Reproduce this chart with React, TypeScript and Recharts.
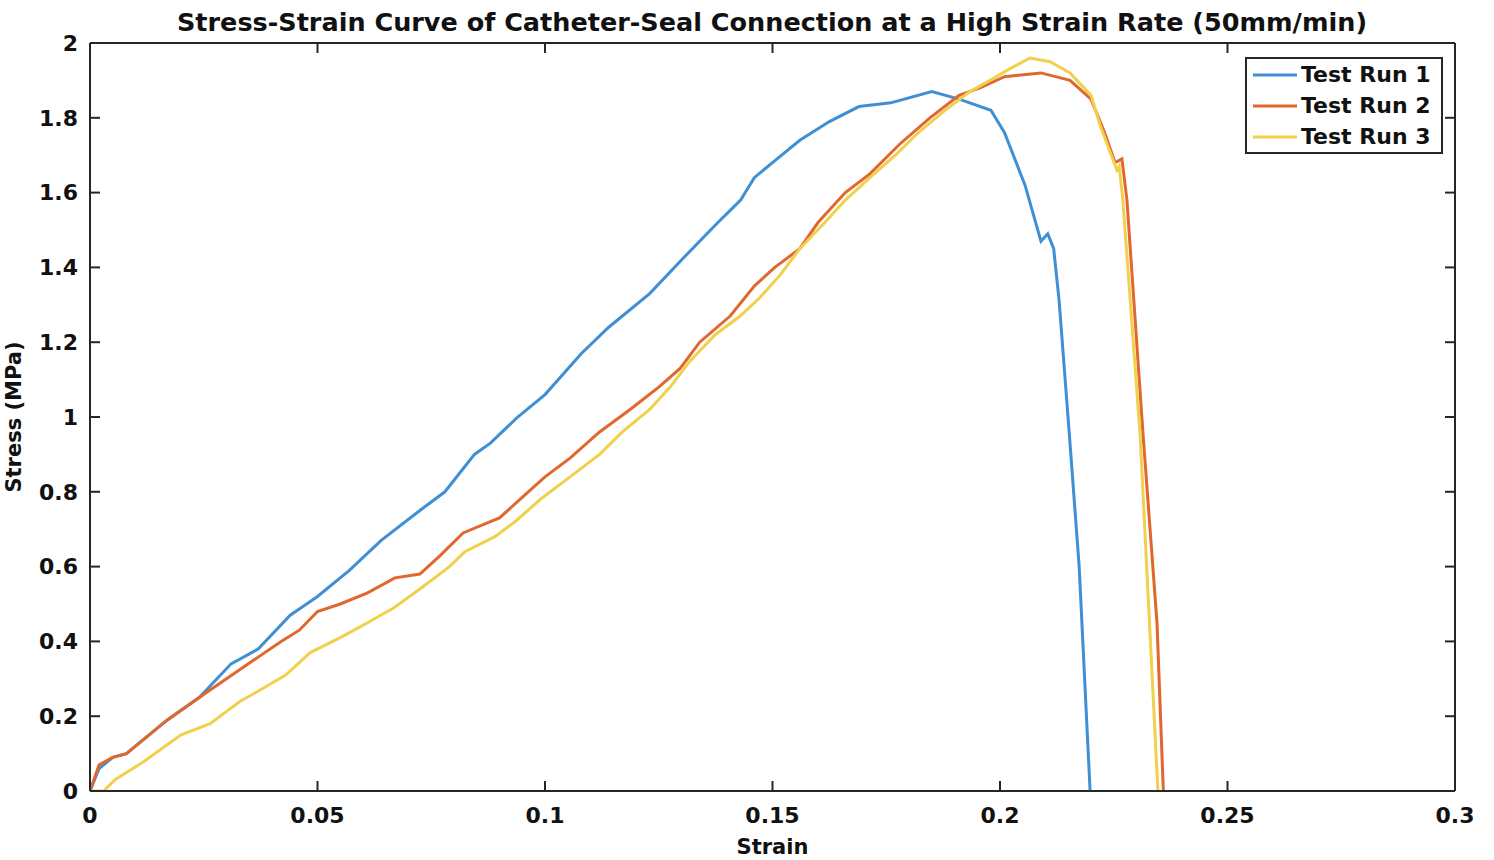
import React from 'react';
import { LineChart, Line, XAxis, YAxis } from 'recharts';

const TITLE = 'Stress-Strain Curve of Catheter-Seal Connection at a High Strain Rate (50mm/min)';
const X_TICKS = [0, 0.05, 0.1, 0.15, 0.2, 0.25, 0.3];
const Y_TICKS = [0, 0.2, 0.4, 0.6, 0.8, 1, 1.2, 1.4, 1.6, 1.8, 2];
const SERIES_NAMES = ['Test Run 1', 'Test Run 2', 'Test Run 3'];
const COLORS = ['#3f8fd4', '#e0682f', '#f1d04c'];

// [strain, stress (MPa)]
const run1: number[][] = [
  [0, 0], [0.002, 0.06], [0.005, 0.09], [0.008, 0.1], [0.012, 0.14], [0.017, 0.19], [0.024, 0.25],
  [0.031, 0.34], [0.037, 0.38], [0.044, 0.47], [0.05, 0.52], [0.057, 0.59], [0.064, 0.67],
  [0.0725, 0.75], [0.078, 0.8], [0.0845, 0.9], [0.088, 0.93], [0.094, 1.0], [0.1, 1.06],
  [0.108, 1.17], [0.114, 1.24], [0.123, 1.33], [0.13, 1.42], [0.138, 1.52], [0.143, 1.58],
  [0.146, 1.64], [0.15, 1.68], [0.156, 1.74], [0.1625, 1.79], [0.169, 1.83], [0.176, 1.84],
  [0.185, 1.87], [0.191, 1.85], [0.198, 1.82], [0.201, 1.76], [0.2055, 1.62], [0.209, 1.47],
  [0.2105, 1.49], [0.2118, 1.45], [0.213, 1.31], [0.2152, 0.96], [0.2174, 0.6], [0.2198, 0],
];

const run2: number[][] = [
  [0, 0], [0.002, 0.07], [0.005, 0.09], [0.008, 0.1], [0.012, 0.14], [0.017, 0.19], [0.024, 0.25],
  [0.03, 0.3], [0.036, 0.35], [0.042, 0.4], [0.046, 0.43], [0.05, 0.48], [0.055, 0.5],
  [0.061, 0.53], [0.067, 0.57], [0.0725, 0.58], [0.077, 0.63], [0.082, 0.69], [0.088, 0.72],
  [0.09, 0.73], [0.0945, 0.78], [0.1, 0.84], [0.1055, 0.89], [0.112, 0.96], [0.1187, 1.02],
  [0.125, 1.08], [0.1297, 1.13], [0.134, 1.2], [0.1407, 1.27], [0.146, 1.35], [0.1505, 1.4],
  [0.156, 1.45], [0.16, 1.52], [0.166, 1.6], [0.1714, 1.65], [0.178, 1.73], [0.1846, 1.8],
  [0.191, 1.86], [0.1956, 1.88], [0.201, 1.91], [0.209, 1.92], [0.2154, 1.9], [0.22, 1.85],
  [0.223, 1.76], [0.2253, 1.68], [0.2268, 1.69], [0.2279, 1.58], [0.2314, 0.96], [0.2345, 0.45],
  [0.2359, 0],
];

const run3: number[][] = [
  [0, 0], [0.003, 0], [0.0055, 0.03], [0.012, 0.08], [0.02, 0.15], [0.0264, 0.18], [0.033, 0.24],
  [0.0374, 0.27], [0.043, 0.31], [0.0484, 0.37], [0.055, 0.41], [0.061, 0.45], [0.0668, 0.49],
  [0.0725, 0.54], [0.079, 0.6], [0.0824, 0.64], [0.089, 0.68], [0.0934, 0.72], [0.099, 0.78],
  [0.1055, 0.84], [0.112, 0.9], [0.117, 0.96], [0.123, 1.02], [0.1275, 1.08], [0.1319, 1.15],
  [0.1374, 1.22], [0.1429, 1.27], [0.1473, 1.32], [0.1517, 1.38], [0.156, 1.45], [0.1615, 1.52],
  [0.166, 1.58], [0.1714, 1.64], [0.177, 1.7], [0.182, 1.76], [0.1879, 1.82], [0.1934, 1.87],
  [0.1978, 1.9], [0.202, 1.93], [0.2066, 1.96], [0.211, 1.95], [0.2154, 1.92], [0.22, 1.86],
  [0.222, 1.78], [0.2257, 1.66], [0.2262, 1.67], [0.227, 1.58], [0.2308, 0.95], [0.2347, 0],
];

const toRows = (pairs: number[][]) => pairs.map(([x, y]) => ({ x, y }));
const SERIES = [run1, run2, run3];

const FONT = '"DejaVu Sans", Arial, sans-serif';
const AXIS_COLOR = '#262626';

const fmt = (v: number) => String(v);

export default function App() {
  return (
    <div style={{ position: 'absolute', left: 0, top: 0, width: 1494, height: 860, background: '#fff' }}>
      <LineChart
        width={1494}
        height={860}
        margin={{ top: 42, right: 38, bottom: 0, left: 0 }}
        style={{ position: 'absolute', left: 0, top: 0 }}
      >
        <XAxis
          xAxisId="x"
          dataKey="x"
          type="number"
          domain={[0, 0.3]}
          ticks={X_TICKS}
          allowDataOverflow
          height={69}
          tickSize={-10}
          tickMargin={26}
          tickFormatter={fmt}
          interval={0}
          axisLine={{ stroke: AXIS_COLOR, strokeWidth: 2 }}
          tickLine={{ stroke: AXIS_COLOR, strokeWidth: 2 }}
          tick={{ fill: '#111', fontFamily: FONT, fontWeight: 700, fontSize: 22 }}
          label={{ value: 'Strain', position: 'insideBottom', offset: 6, fill: '#111', fontFamily: FONT, fontWeight: 700, fontSize: 21 }}
        />
        <XAxis
          xAxisId="xt"
          dataKey="x"
          type="number"
          orientation="top"
          domain={[0, 0.3]}
          ticks={X_TICKS}
          allowDataOverflow
          height={1}
          tickSize={-10}
          tickFormatter={() => ''}
          interval={0}
          axisLine={{ stroke: AXIS_COLOR, strokeWidth: 2 }}
          tickLine={{ stroke: AXIS_COLOR, strokeWidth: 2 }}
        />
        <YAxis
          yAxisId="y"
          type="number"
          domain={[0, 2]}
          ticks={Y_TICKS}
          allowDataOverflow
          width={90}
          tickSize={-10}
          tickMargin={22}
          tickFormatter={fmt}
          interval={0}
          axisLine={{ stroke: AXIS_COLOR, strokeWidth: 2 }}
          tickLine={{ stroke: AXIS_COLOR, strokeWidth: 2 }}
          tick={{ fill: '#111', fontFamily: FONT, fontWeight: 700, fontSize: 22 }}
          label={{
            value: 'Stress (MPa)',
            angle: -90,
            position: 'insideLeft',
            offset: 14,
            textAnchor: 'middle',
            fill: '#111',
            fontFamily: FONT,
            fontWeight: 700,
            fontSize: 21,
          }}
        />
        <YAxis
          yAxisId="yr"
          type="number"
          orientation="right"
          domain={[0, 2]}
          ticks={Y_TICKS}
          allowDataOverflow
          width={1}
          tickSize={-10}
          tickFormatter={() => ''}
          interval={0}
          axisLine={{ stroke: AXIS_COLOR, strokeWidth: 2 }}
          tickLine={{ stroke: AXIS_COLOR, strokeWidth: 2 }}
        />
        {SERIES.map((s, i) => (
          <Line
            key={SERIES_NAMES[i]}
            name={SERIES_NAMES[i]}
            data={toRows(s)}
            dataKey="y"
            xAxisId="x"
            yAxisId="y"
            type="linear"
            stroke={COLORS[i]}
            strokeWidth={3}
            dot={false}
            activeDot={false}
            isAnimationActive={false}
          />
        ))}
      </LineChart>
      <div
        style={{
          position: 'absolute',
          left: 0,
          width: 1544,
          top: 7,
          textAlign: 'center',
          fontFamily: FONT,
          fontWeight: 700,
          fontSize: 25.5,
          color: '#111',
          whiteSpace: 'nowrap',
        }}
      >
        {TITLE}
      </div>
      <div
        style={{
          position: 'absolute',
          left: 1245,
          top: 57,
          width: 198,
          height: 97,
          border: `2px solid ${AXIS_COLOR}`,
          background: '#fff',
          padding: '0 4px',
          fontFamily: FONT,
          fontWeight: 700,
          fontSize: 22,
          color: '#111',
          boxSizing: 'border-box',
        }}
      >
        {SERIES_NAMES.map((n, i) => (
          <div key={n} style={{ display: 'flex', alignItems: 'center', height: 31, whiteSpace: 'nowrap' }}>
            <svg width={48} height={10} style={{ marginRight: 2, flex: 'none' }}>
              <line x1={2} y1={5} x2={46} y2={5} stroke={COLORS[i]} strokeWidth={3} />
            </svg>
            <span>{n}</span>
          </div>
        ))}
      </div>
    </div>
  );
}
